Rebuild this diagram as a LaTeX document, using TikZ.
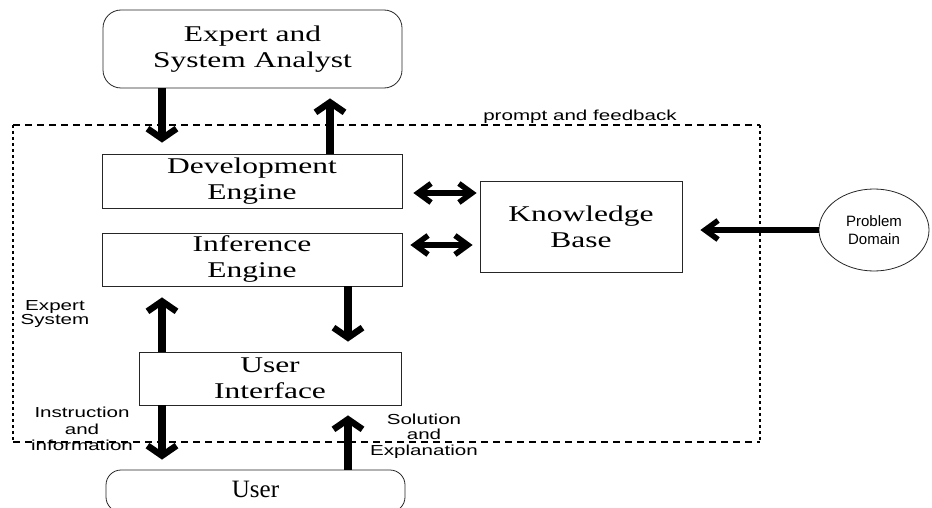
\documentclass[tikz,border=0pt]{standalone}
\usepackage{fontspec}
\setmainfont{Liberation Serif}
\newfontfamily\boxfont{Liberation Serif}[FakeStretch=1.4]
\newfontfamily\lblfont{Liberation Sans}[FakeStretch=1.42]
\newfontfamily\pdfont{Liberation Sans}
\usetikzlibrary{arrows.meta,shapes.geometric}

\tikzset{
  block/.style={draw=black!85, line width=0.8pt, fill=white, inner sep=0pt,
    align=center, font=\boxfont\fontsize{22.5}{26}\selectfont},
  roundblock/.style={block, rounded corners=18pt},
  note/.style={inner sep=0pt, align=center, font=\lblfont\fontsize{14.5}{15.5}\selectfont},
  vflow/.style={line width=7.5pt,
    -{Straight Barb[length=10pt,width=29pt,line width=6.5pt]}},
  hbarb/.style={line width=5.5pt},
  hflow/.style={hbarb,
    -{Straight Barb[length=13pt,width=19pt,line width=5.5pt]}},
  hboth/.style={hbarb,
    {Straight Barb[length=13pt,width=19pt,line width=5.5pt]}-{Straight Barb[length=13pt,width=19pt,line width=5.5pt]}},
  framedash/.style={line width=2pt, dash pattern=on 7pt off 5pt},
  framedot/.style={line width=2.6pt, dash pattern=on 3pt off 3pt},
}

\begin{document}
\begin{tikzpicture}[x=1pt, y=-1pt]
\useasboundingbox (0,0) rectangle (932,508);

% expert-system boundary: dashed top and bottom, dotted sides
\coordinate (fTL) at (13,125);
\coordinate (fTR) at (760,125);
\coordinate (fBL) at (13,442);
\coordinate (fBR) at (760,442);
\draw[framedash] (fTL) -- (fTR);
\draw[framedash] (fBL) -- (fBR);
\draw[framedot] (fTL) -- (fBL);
\draw[framedot] (fTR) -- (fBR);

% blocks
\node[roundblock, minimum width=299pt, minimum height=78pt] (expert) at (252.5,49)
  {Expert and\\System Analyst};
\node[block, minimum width=300pt, minimum height=54pt] (dev) at (252,181)
  {Development\\Engine};
\node[block, minimum width=300pt, minimum height=53pt] (inf) at (252,259.5)
  {Inference\\Engine};
\node[block, minimum width=202pt, minimum height=91pt] (kb) at (581,226.5)
  {Knowledge\\Base};
\node[block, minimum width=262pt, minimum height=53pt] (ui) at (270,378.5)
  {User\\Interface};
\node[block, rounded corners=15pt, minimum width=299pt, minimum height=42pt,
  font=\rmfamily\fontsize{25}{28}\selectfont, text height=16pt, text depth=4pt]
  (user) at (255.5,491) {User};
\node[draw=black!85, line width=0.8pt, fill=white, ellipse, inner sep=0pt,
  minimum width=110pt, minimum height=82pt, align=center,
  font=\pdfont\fontsize{15}{18}\selectfont] (pd) at (874,230) {Problem\\Domain};

% labels
\node[note] (lprompt) at (580,117) {prompt and feedback};
\node[note, font=\lblfont\fontsize{14.5}{14}\selectfont] (lexpert) at (55,314) {Expert\\System};
\node[note, font=\lblfont\fontsize{14.5}{16.5}\selectfont] (linstr) at (82,429)
  {Instruction\\and\\information};
\node[note] (lsol) at (424,436) {Solution\\and\\Explanation};

% arrow columns and rows
\coordinate (xA) at (162,0);
\coordinate (xB) at (330,0);
\coordinate (xC) at (348,0);
\coordinate (yK1) at (0,193);
\coordinate (yK2) at (0,245);

% connectors
\draw[vflow, shorten >=11pt] (expert.south -| xA) -- (dev.north -| xA);
\draw[vflow, shorten >=10pt] (dev.north -| xB) -- (expert.south -| xB);
\draw[hboth, shorten <=11pt, shorten >=3pt] (dev.east |- yK1) -- (kb.west |- yK1);
\draw[hboth, shorten <=8pt, shorten >=7pt] (inf.east |- yK2) -- (kb.west |- yK2);
\draw[hflow, shorten >=18pt] (pd.west) -- (kb.east |- pd.west);
\draw[vflow, shorten >=11pt] (ui.north -| xA) -- (inf.south -| xA);
\draw[vflow, shorten >=10pt] (inf.south -| xC) -- (ui.north -| xC);
\draw[vflow, shorten >=10pt] (ui.south -| xA) -- (user.north -| xA);
\draw[vflow, shorten >=10pt] (user.north -| xC) -- (ui.south -| xC);
\end{tikzpicture}
\end{document}
